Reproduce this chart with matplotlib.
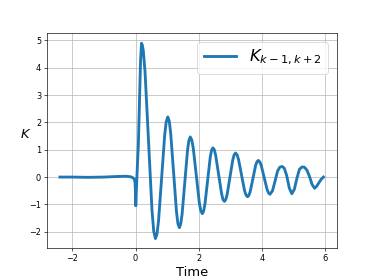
import matplotlib
matplotlib.use('Agg')
import matplotlib.pyplot as plt

# values
time_vals = [-2.39, -2.0, -1.5, -1.0, -0.6, -0.3, -0.15, -0.08, -0.04, -0.015, 0.0, 0.008,
             0.05, 0.09, 0.13, 0.16, 0.19, 0.215, 0.245,
             0.30, 0.41, 0.52, 0.575, 0.63,
             0.679, 0.7275, 0.825, 0.9225, 0.971, 1.02,
             1.066, 1.111, 1.2025, 1.294, 1.339, 1.385,
             1.428, 1.471, 1.5575, 1.644, 1.687, 1.73,
             1.7775, 1.825, 1.92, 2.015, 2.0625, 2.11,
             2.152, 2.194, 2.2775, 2.361, 2.403, 2.445,
             2.491, 2.536, 2.6275, 2.719, 2.764, 2.81,
             2.854, 2.8975, 2.985, 3.0725, 3.116, 3.16,
             3.2075, 3.255, 3.35, 3.445, 3.4925, 3.54,
             3.5825, 3.625, 3.71, 3.795, 3.8375, 3.88,
             3.926, 3.9725, 4.065, 4.1575, 4.204, 4.25,
             4.33, 4.41, 4.49, 4.56, 4.63, 4.70, 4.78, 4.86, 4.94,
             5.02, 5.1, 5.18, 5.26, 5.34, 5.42, 5.5, 5.58, 5.66,
             5.73, 5.8, 5.87, 5.94]
k_vals = [0.0, 0.0, -0.01, 0.0, 0.02, 0.03, 0.01, -0.03, -0.08, -0.2, -0.6, -1.05,
          0.2, 1.2, 3.0, 4.3, 4.9, 4.83, 4.63,
          3.86, 1.33, -1.21, -1.98, -2.25,
          -2.08, -1.60, -0.03, 1.55, 2.03, 2.2,
          2.05, 1.61, 0.18, -1.26, -1.70, -1.85,
          -1.72, -1.37, -0.19, 0.99, 1.34, 1.47,
          1.36, 1.06, 0.07, -0.93, -1.23, -1.34,
          -1.25, -0.99, -0.14, 0.72, 0.98, 1.07,
          1.0, 0.78, 0.09, -0.60, -0.82, -0.89,
          -0.82, -0.63, 0.0, 0.62, 0.81, 0.88,
          0.82, 0.65, 0.08, -0.49, -0.66, -0.72,
          -0.67, -0.53, -0.06, 0.42, 0.56, 0.61,
          0.56, 0.43, -0.01, -0.45, -0.58, -0.63,
          -0.5, -0.15, 0.22, 0.36, 0.39, 0.33, 0.05, -0.4, -0.61,
          -0.45, -0.05, 0.28, 0.37, 0.36, 0.25, 0.02, -0.27, -0.41,
          -0.33, -0.2, -0.08, 0.0]

fig = plt.figure(figsize=(6.4, 4.775), dpi=58.44)
plt.plot(time_vals, k_vals, linewidth=3.5, label='$K_{k-1,k+2}$')
plt.grid(True)
plt.xlabel('Time', fontsize=16)
plt.ylabel('$K$', rotation=0, fontsize=16)
plt.legend(fontsize=20, loc='upper right')
plt.savefig('out.png', dpi=58.44)
